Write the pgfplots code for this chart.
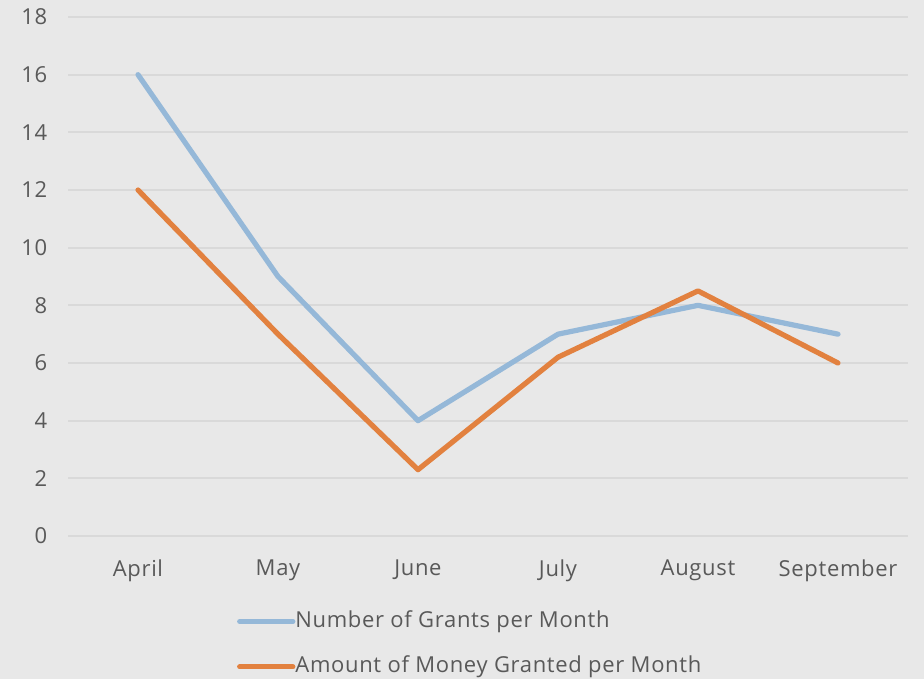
\documentclass[border=0pt]{standalone}
\usepackage{fontspec}
\setmainfont{Open Sans}[LetterSpace=3]
\usepackage{pgfplots}
\pgfplotsset{compat=1.18}
\definecolor{bgc}{HTML}{E8E8E8}
\definecolor{gridc}{HTML}{D9D9D9}
\definecolor{txt}{HTML}{595959}
\definecolor{sblue}{HTML}{95B8D8}
\definecolor{sorange}{HTML}{E2813F}
\begin{document}
\begin{tikzpicture}[x=1pt,y=1pt]
\fill[bgc] (0,0) rectangle (693,509.25);
\begin{axis}[
  at={(51pt,107.25pt)}, anchor=south west,
  scale only axis, width=630pt, height=389.25pt,
  xmin=-0.5, xmax=5.5, ymin=0, ymax=18,
  xtick={0,1,2,3,4,5},
  xticklabels={April,May,June,July,August,September},
  ytick={0,2,...,18},
  axis line style={draw=none},
  tick style={draw=none},
  xmajorgrids=false, ymajorgrids=true,
  major grid style={draw=gridc, line width=1.3pt},
  font=\fontsize{16.5}{19}\selectfont,
  tick label style={text=txt},
  /pgf/number format/assume math mode=true,
  yticklabel style={xshift=-12pt},
  xticklabel style={yshift=-14pt},
  legend style={at={(0.201,-0.145)}, anchor=north west, draw=none, fill=none,
    inner sep=0pt, row sep=19pt, font=\fontsize{16.5}{19}\selectfont,
    text=txt, nodes={inner sep=0pt, text height=12pt, text depth=3pt, anchor=west}},
  legend cell align=left,
  legend image code/.code={\draw[#1, line width=3.75pt, line cap=round] (0pt,0pt) -- (40pt,0pt);},
  legend style={/tikz/every even column/.append style={column sep=3pt}},
]
\addplot[sblue, line width=3.9pt, line cap=round, line join=round] coordinates {(0,16) (1,9) (2,4) (3,7) (4,8) (5,7)};
\addlegendentry{Number of Grants per Month}
\addplot[sorange, line width=3.9pt, line cap=round, line join=round] coordinates {(0,12) (1,7) (2,2.3) (3,6.2) (4,8.5) (5,6)};
\addlegendentry{Amount of Money Granted per Month}
\end{axis}
\end{tikzpicture}
\end{document}
